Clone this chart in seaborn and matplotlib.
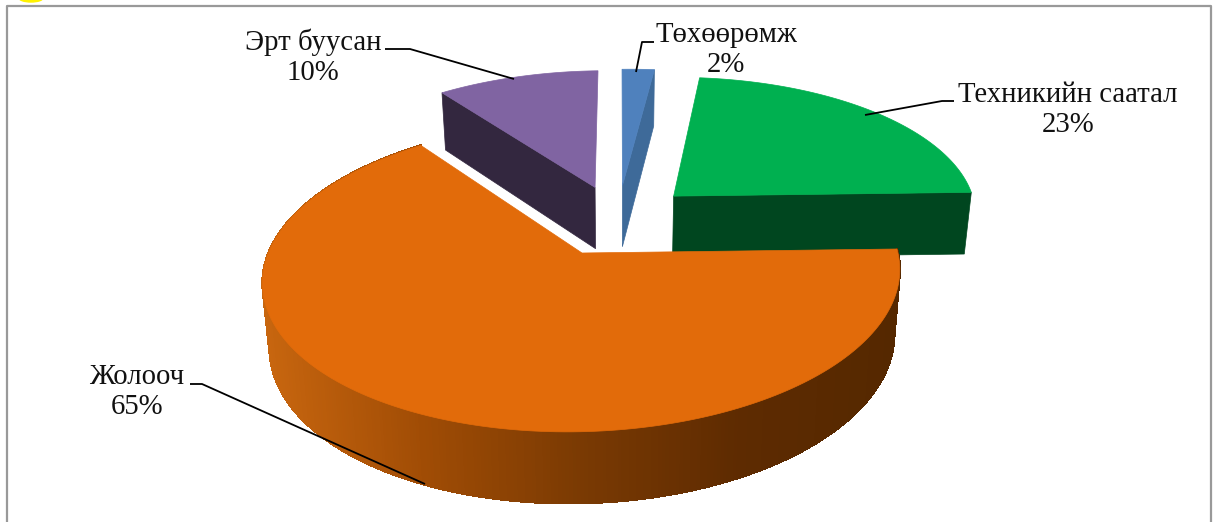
import numpy as np
import matplotlib
matplotlib.use("Agg")
import matplotlib.pyplot as plt
from matplotlib.patches import Ellipse
import seaborn as sns

categories = ["Төхөөрөмж", "Техникийн саатал", "Жолооч", "Эрт буусан"]
values = [2, 23, 65, 10]
top_colors = ["#4F81BD", "#00B050", "#E26B0A", "#8064A2"]
wall_colors = ["#3E6A99", "#00461F", "#8A4204", "#33273F"]
explode = [0.25, 0.25, 0.25, 0.25]

sns.set_theme(style="white")
plt.rcParams["font.family"] = ["Liberation Serif", "DejaVu Serif"]

# picture of the tilted pie, in pixels
VX, CY = 619.0, 253.0
CX, RX, RY, K = 582.0, 315.0, 152.0, 0.15
TILT = 4.0
W, H = 1213, 522

fig, ax = plt.subplots(figsize=(W / 100, H / 100), dpi=100)
fig.subplots_adjust(0, 0, 1, 1)

# the pie itself gives the angles and the exploded centres
wedges, _ = ax.pie(values, explode=explode, startangle=90, counterclock=False)
geometry = [(w.center, w.theta1, w.theta2) for w in wedges]
for w in wedges:
    w.remove()
origin = geometry[2][0]

ax.set_aspect("auto")
ax.set_xlim(0, W)
ax.set_ylim(H, 0)
ax.set_axis_off()


def project(u, v):
    u = np.asarray(u) - origin[0]
    v = np.asarray(v) - origin[1]
    s = 1 / (1 + K * v)
    x = VX + (CX - VX + RX * u) * s
    y = CY - (RY * v + TILT * u) * s
    return x, y, s


def lower(x, y, s):
    return VX + (x - VX) * 0.98, y + 22 + 42 * s


def arc(center, t1, t2, n=200):
    t = np.radians(np.linspace(t1, t2, n))
    return center[0] + np.cos(t), center[1] + np.sin(t)


def radial_wall(center, angle, color):
    ex, ey = arc(center, angle, angle, 1)
    x, y, s = project([center[0], ex[0]], [center[1], ey[0]])
    bx, by = lower(x, y, s)
    ax.fill(np.r_[x, bx[::-1]], np.r_[y, by[::-1]], color=color, lw=0.5, zorder=2)


def top_face(center, t1, t2, color, z):
    ux, uy = arc(center, t1, t2)
    x, y, _ = project(np.r_[center[0], ux], np.r_[center[1], uy])
    ax.fill(x, y, color=color, lw=0.5, zorder=z)


# slices, back to front
(c_blue, b1, b2), (c_green, g1, g2), (c_orange, o1, o2), (c_purple, p1, p2) = geometry

radial_wall(c_purple, p2, wall_colors[3])
radial_wall(c_blue, b1, wall_colors[0])
radial_wall(c_green, g1, wall_colors[1])
top_face(c_purple, p1, p2, top_colors[3], 3)
top_face(c_blue, b1, b2, top_colors[0], 3)
top_face(c_green, g1, g2, top_colors[1], 3)

# curved side of the big slice, shaded from left to right
ux, uy = arc(c_orange, o1, o2, 400)
x, y, s = project(ux, uy)
bx, by = lower(x, y, s)
shade = sns.blend_palette(["#C8660F", "#A04C05", "#7A3A03", "#5E2B01", "#552800"], 256)
for i in range(len(x) - 1):
    idx = int(np.clip((x[i] - 263) / (895 - 263), 0, 1) * 255)
    ax.fill([x[i], x[i + 1], bx[i + 1], bx[i]], [y[i], y[i + 1], by[i + 1], by[i]],
            color=shade[idx], lw=1.0, antialiased=False, zorder=4)
top_face(c_orange, o1, o2, top_colors[2], 5)

# labels and leader lines
label_pos = [(726, 50), (1068, 110), (137, 392), (313, 57)]
leaders = [
    ([636, 642, 654], [72, 42, 42]),
    ([865, 942, 954], [115, 101, 101]),
    ([190, 202, 425], [384, 384, 484]),
    ([514, 410, 385], [79, 49, 49]),
]
for name, val, (tx, ty), (lx, ly) in zip(categories, values, label_pos, leaders):
    ax.plot(lx, ly, color="black", lw=1.3, zorder=6, solid_capstyle="butt")
    ax.text(tx, ty, f"{name}\n{val}%", ha="center", va="center", fontsize=20.7,
            linespacing=1.2, color="#111111", zorder=7)

# frame of the surrounding page and the yellow scrap above it
ax.plot([7, 7, 1211, 1211], [H, 5.5, 5.5, H], color="#999999", lw=1.6, zorder=1)
ax.add_patch(Ellipse((31, -2), 24, 8, color="#FFF200", clip_on=True, zorder=1))

plt.savefig("out.png", dpi=100)
